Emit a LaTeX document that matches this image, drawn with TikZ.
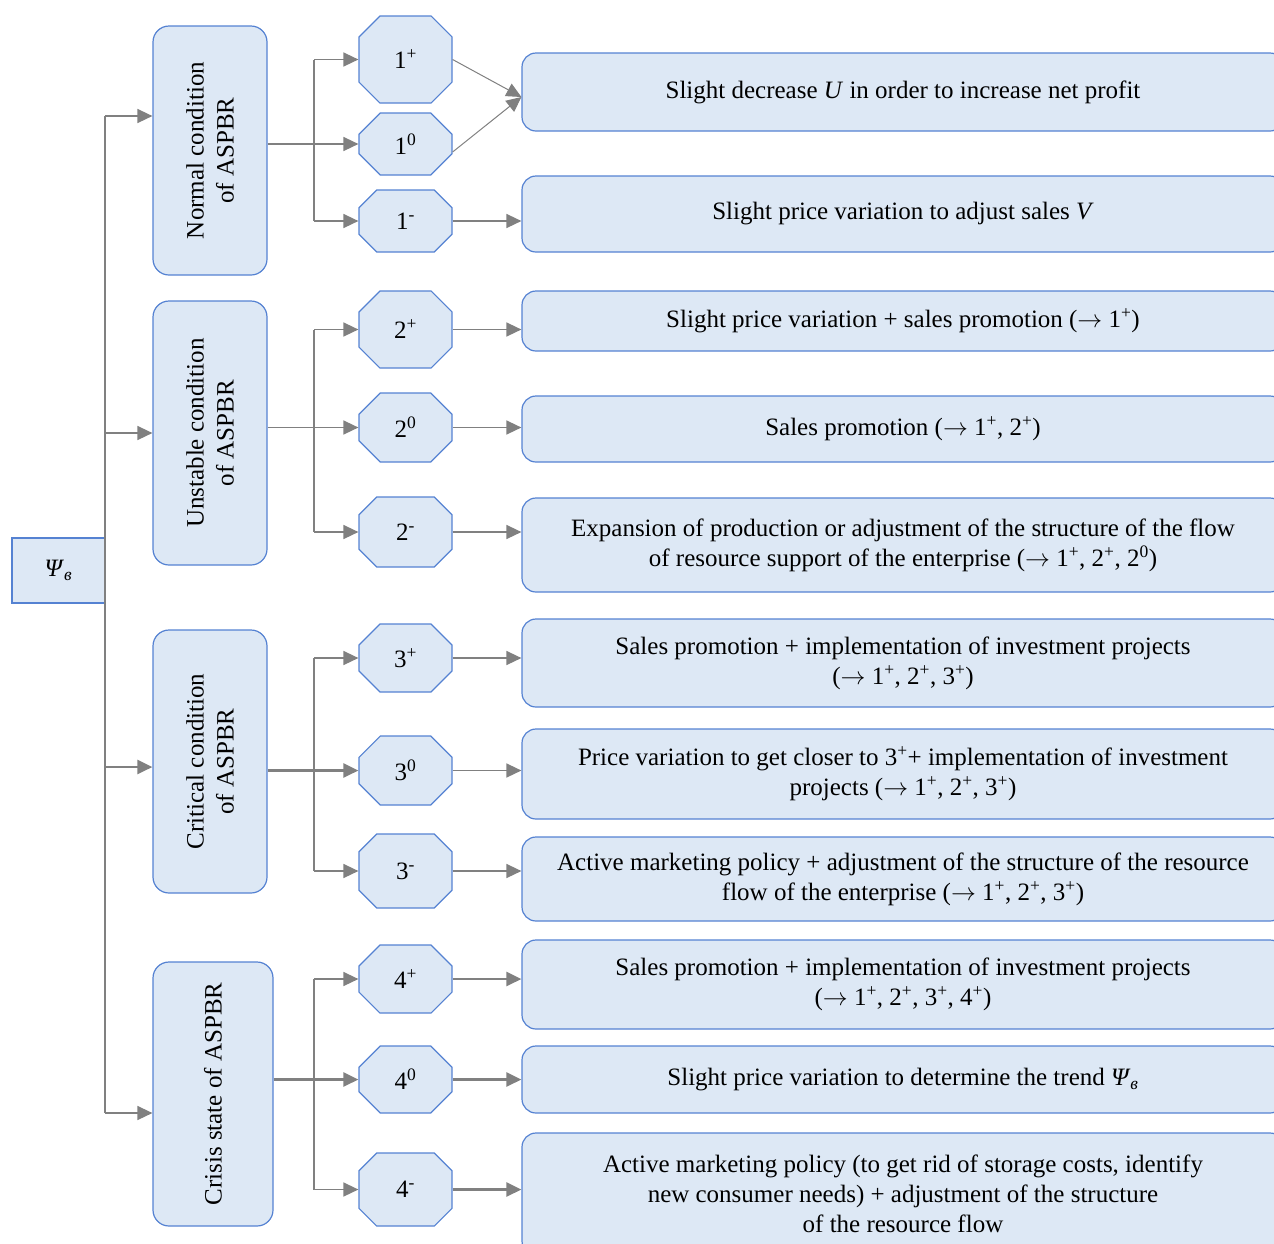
\documentclass[tikz,border=0pt]{standalone}
\usepackage{fontspec}
\setmainfont{Liberation Serif}
\usetikzlibrary{shapes.misc,arrows.meta,positioning}
\definecolor{boxfill}{HTML}{DDE8F5}
\definecolor{boxline}{HTML}{5582D2}
\definecolor{wiregray}{HTML}{808080}
\newcommand{\psiv}{\textit{Ψ}\textsubscript{\textit{в}}}
\newcommand{\up}[1]{\textsuperscript{#1}}
\newcommand{\arr}{$\rightarrow$}

\begin{document}
\begin{tikzpicture}[x=1pt,y=-1pt,
    font=\fontsize{25}{30}\selectfont,
    base/.style={draw=boxline,fill=boxfill,line width=1.2pt,inner sep=0pt},
    root/.style={base,minimum width=93pt,minimum height=65pt},
    cond/.style={base,rounded corners=16pt,rotate=90,align=center},
    state/.style={base,chamfered rectangle,chamfered rectangle xsep=15pt,
      chamfered rectangle ysep=17pt,minimum width=93pt},
    act/.style={base,rounded corners=14pt,align=center,minimum width=762pt},
    wire/.style={draw=wiregray,line width=1.5pt},
    link/.style={wire,-{Triangle[length=15pt,width=14pt]}},
    heavy/.style={link,line width=2.6pt}]
  \useasboundingbox (0,0) rectangle (1274,1243);

  \node[root] (root) at (58.5,570.5) {\psiv};

  \node[cond,minimum width=249pt,minimum height=114pt] (c1) at (210,150.5) {Normal condition\\of ASPBR};
  \node[cond,minimum width=264pt,minimum height=114pt] (c2) at (210,433) {Unstable condition\\of ASPBR};
  \node[cond,minimum width=263pt,minimum height=114pt] (c3) at (210,761.5) {Critical condition\\of ASPBR};
  \node[cond,minimum width=264pt,minimum height=120pt] (c4) at (213,1094) {Crisis state of ASPBR};

  \node[state,minimum height=87pt] (s1p) at (405.5,59.5) {1\up{+}};
  \node[state,minimum height=62pt] (s10) at (405.5,144) {1\up{0}};
  \node[state,minimum height=62pt] (s1m) at (405.5,221) {1\up{-}};
  \node[state,minimum height=77pt] (s2p) at (405.5,329.5) {2\up{+}};
  \node[state,minimum height=69pt] (s20) at (405.5,427.5) {2\up{0}};
  \node[state,minimum height=70pt] (s2m) at (405.5,532) {2\up{-}};
  \node[state,minimum height=68pt] (s3p) at (405.5,658) {3\up{+}};
  \node[state,minimum height=69pt] (s30) at (405.5,770.5) {3\up{0}};
  \node[state,minimum height=74pt] (s3m) at (405.5,871) {3\up{-}};
  \node[state,minimum height=68pt] (s4p) at (405.5,979) {4\up{+}};
  \node[state,minimum height=67pt] (s40) at (405.5,1079.5) {4\up{0}};
  \node[state,minimum height=73pt] (s4m) at (405.5,1189.5) {4\up{-}};

  \node[act,minimum height=78pt] (a1) at (903,92) {Slight decrease \textit{U} in order to increase net profit};
  \node[act,minimum height=76pt] (a2) at (903,214) {Slight price variation to adjust sales \textit{V}};
  \node[act,minimum height=60pt] (a3) at (903,321) {Slight price variation + sales promotion (\arr{} 1\up{+})};
  \node[act,minimum height=66pt] (a4) at (903,429) {Sales promotion (\arr{} 1\up{+}, 2\up{+})};
  \node[act,minimum height=94pt] (a5) at (903,545) {Expansion of production or adjustment of the structure of the flow\\of resource support of the enterprise (\arr{} 1\up{+}, 2\up{+}, 2\up{0})};
  \node[act,minimum height=88pt] (a6) at (903,663) {Sales promotion + implementation of investment projects\\(\arr{} 1\up{+}, 2\up{+}, 3\up{+})};
  \node[act,minimum height=90pt] (a7) at (903,774) {Price variation to get closer to 3\up{+}+ implementation of investment\\projects (\arr{} 1\up{+}, 2\up{+}, 3\up{+})};
  \node[act,minimum height=84pt] (a8) at (903,879) {Active marketing policy + adjustment of the structure of the resource\\flow of the enterprise (\arr{} 1\up{+}, 2\up{+}, 3\up{+})};
  \node[act,minimum height=89pt] (a9) at (903,984.5) {Sales promotion + implementation of investment projects\\(\arr{} 1\up{+}, 2\up{+}, 3\up{+}, 4\up{+})};
  \node[act,minimum height=67pt] (a10) at (903,1079.5) {Slight price variation to determine the trend \psiv};
  \node[act,minimum height=122pt] (a11) at (903,1194) {Active marketing policy (to get rid of storage costs, identify\\new consumer needs) + adjustment of the structure\\of the resource flow};

  % trunk
  \coordinate (t1) at (105,116);
  \coordinate (t2) at (105,433);
  \coordinate (t3) at (105,767);
  \coordinate (t4) at (105,1113);
  \draw[wire] (t1) -- (t4);
  \draw[link] (t1) -- (t1 -| c1.north);
  \draw[link] (t2) -- (t2 -| c2.north);
  \draw[heavy] (t3) -- (t3 -| c3.north);
  \draw[link] (t4) -- (t4 -| c4.north);

  % branches
  \coordinate (bus) at (314,0);
  \draw[wire] (bus |- s1p.west) -- (bus |- s1m.west);
  \draw[wire] (bus |- s2p.west) -- (bus |- s2m.west);
  \draw[wire] (bus |- s3p.west) -- (bus |- s3m.west);
  \draw[wire] (bus |- s4p.west) -- (bus |- s4m.west);
  \draw[link] (c1.south |- s10.west) -- (s10.west);
  \draw[link] (c2.south |- s20.west) -- (s20.west);
  \draw[heavy] (c3.south |- s30.west) -- (s30.west);
  \draw[heavy] (c4.south |- s40.west) -- (s40.west);
  \foreach \s in {s1p,s1m,s2p,s2m,s3p,s3m,s4p,s4m}
    \draw[link] (bus |- \s.west) -- (\s.west);

  % actions
  \draw[wire,line width=1pt,-{Triangle[length=15pt,width=14pt]}] (s1p.east) -- ([yshift=-5pt]a1.west);
  \draw[wire,line width=1pt,-{Triangle[length=15pt,width=14pt]}] ([yshift=-8pt]s10.east) -- ([yshift=-5pt]a1.west);
  \foreach \s/\a in {s1m/a2,s2p/a3,s20/a4,s2m/a5,s3p/a6,s30/a7,s3m/a8}
    \draw[link] (\s.east) -- (\s.east -| \a.west);
  \foreach \s/\a in {s4p/a9,s40/a10,s4m/a11}
    \draw[heavy] (\s.east) -- (\s.east -| \a.west);
\end{tikzpicture}
\end{document}
